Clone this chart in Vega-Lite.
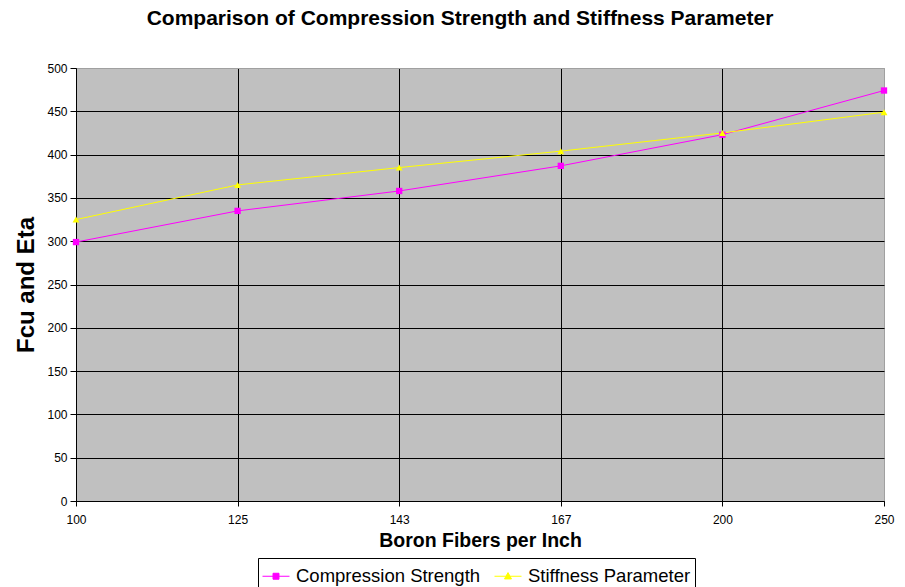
{
  "$schema": "https://vega.github.io/schema/vega-lite/v6.json",
  "width": 808,
  "height": 433,
  "autosize": {"type": "none"},
  "padding": {"left": 76, "top": 68, "right": 21, "bottom": 86},
  "background": "white",
  "config": {
    "font": "Liberation Sans",
    "view": {"fill": "#C0C0C0", "stroke": "#A0A0A0", "strokeWidth": 1}
  },
  "title": {
    "text": "Comparison of Compression Strength and Stiffness Parameter",
    "fontSize": 21,
    "fontWeight": "bold",
    "color": "black",
    "anchor": "middle",
    "dx": -20,
    "offset": 33
  },
  "data": {
    "values": [
      {"fibers": "100", "series": "Compression Strength", "value": 299},
      {"fibers": "125", "series": "Compression Strength", "value": 335},
      {"fibers": "143", "series": "Compression Strength", "value": 358},
      {"fibers": "167", "series": "Compression Strength", "value": 387},
      {"fibers": "200", "series": "Compression Strength", "value": 423},
      {"fibers": "250", "series": "Compression Strength", "value": 474},
      {"fibers": "100", "series": "Stiffness Parameter", "value": 325},
      {"fibers": "125", "series": "Stiffness Parameter", "value": 365},
      {"fibers": "143", "series": "Stiffness Parameter", "value": 385},
      {"fibers": "167", "series": "Stiffness Parameter", "value": 404},
      {"fibers": "200", "series": "Stiffness Parameter", "value": 425},
      {"fibers": "250", "series": "Stiffness Parameter", "value": 449}
    ]
  },
  "encoding": {
    "x": {
      "field": "fibers",
      "type": "ordinal",
      "sort": ["100", "125", "143", "167", "200", "250"],
      "scale": {"type": "point", "padding": 0},
      "axis": {
        "title": "Boron Fibers per Inch",
        "titleFontSize": 19.5,
        "titleFontWeight": "bold",
        "titleColor": "black",
        "titlePadding": 6,
        "labelAngle": 0,
        "labelFontSize": 12,
        "labelColor": "black",
        "labelPadding": 8,
        "tickColor": "black",
        "tickSize": 5,
        "domainColor": "black",
        "grid": true,
        "gridColor": {"condition": {"test": "datum.value === '250'", "value": "#A0A0A0"}, "value": "black"},
        "gridOpacity": 1
      }
    },
    "y": {
      "field": "value",
      "type": "quantitative",
      "scale": {"domain": [0, 500], "nice": false},
      "axis": {
        "title": "Fcu and Eta",
        "titleFontSize": 24,
        "titleFontWeight": "bold",
        "titleColor": "black",
        "titlePadding": 8,
        "values": [0, 50, 100, 150, 200, 250, 300, 350, 400, 450, 500],
        "labelFontSize": 12,
        "labelColor": "black",
        "labelPadding": 3,
        "tickColor": "black",
        "tickSize": 6,
        "domainColor": "black",
        "grid": true,
        "gridColor": {"condition": {"test": "datum.value === 500", "value": "#A0A0A0"}, "value": "black"},
        "gridOpacity": 1
      }
    }
  },
  "layer": [
    {
      "mark": {"type": "line", "strokeWidth": 1},
      "encoding": {
        "color": {
          "field": "series",
          "type": "nominal",
          "scale": {"domain": ["Compression Strength", "Stiffness Parameter"], "range": ["#FF00FF", "#FFFF00"]},
          "legend": {
            "title": null,
            "orient": "none",
            "legendX": 182,
            "legendY": 490,
            "direction": "horizontal",
            "strokeColor": "black",
            "fillColor": "white",
            "padding": 4,
            "labelFontSize": 18.5,
            "labelColor": "black",
            "labelOffset": 6,
            "labelLimit": 0,
            "columnPadding": 11,
            "symbolSize": 729,
            "symbolStrokeWidth": 1,
            "symbolOpacity": 1
          }
        }
      }
    },
    {
      "transform": [{"filter": "datum.series === 'Compression Strength'"}],
      "mark": {"type": "point", "filled": true, "opacity": 1, "size": 40, "shape": "square"},
      "encoding": {
        "color": {"field": "series", "type": "nominal", "legend": null}
      }
    },
    {
      "transform": [{"filter": "datum.series === 'Stiffness Parameter'"}],
      "mark": {"type": "point", "filled": true, "opacity": 1, "size": 48, "shape": "triangle-up"},
      "encoding": {
        "color": {"field": "series", "type": "nominal", "legend": null}
      }
    },
    {
      "mark": {"type": "point", "filled": true, "opacity": 0, "size": 40},
      "encoding": {
        "color": {"field": "series", "type": "nominal", "legend": null},
        "shape": {
          "field": "series",
          "type": "nominal",
          "scale": {"domain": ["Compression Strength", "Stiffness Parameter"], "range": ["M-1,0H1M-0.22,-0.22H0.22V0.22H-0.22Z", "M-1,0H1M0,-0.27L0.26,0.2H-0.26Z"]},
          "legend": null
        }
      }
    }
  ]
}
